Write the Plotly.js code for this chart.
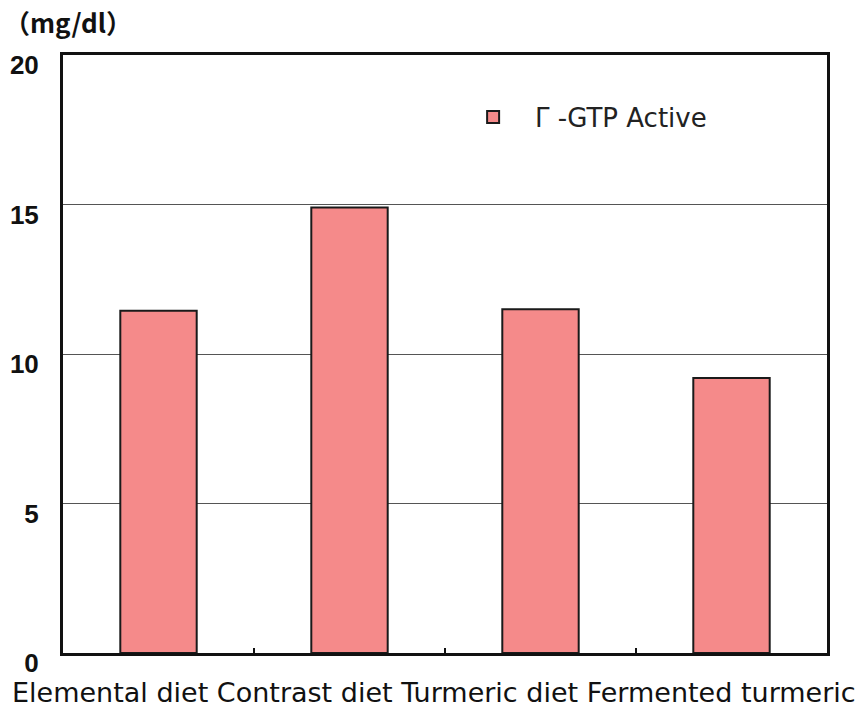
<!DOCTYPE html>
<html><head><meta charset="utf-8">
<script src="https://cdn.plot.ly/plotly-3.0.1.min.js"></script>
<style>html,body{margin:0;padding:0;background:#fff;}#chart{width:858px;height:708px;}</style>
</head><body><div id="chart"></div>
<script>
const categories = ["Elemental diet", "Contrast diet", "Turmeric diet", "Fermented turmeric"];
const gtpActive = [11.45, 14.9, 11.5, 9.2];
const seriesName = "Γ -GTP Active";
const yTicks = [0, 5, 10, 15, 20];
const unitLabel = "（mg/dl）";

const trace = {
  type: "bar", x: categories, y: gtpActive, name: seriesName,
  width: 0.4,
  marker: {color: "#F58A8A", line: {color: "#1a1a1a", width: 2}},
  showlegend: true, hoverinfo: "none"
};
const layout = {
  width: 858, height: 708,
  margin: {l: 63, r: 31, t: 55, b: 55},
  paper_bgcolor: "#fff", plot_bgcolor: "#fff",
  showlegend: true,
  legend: {x: 0.508, y: 0.896, xanchor: "left", yanchor: "middle", bgcolor: "rgba(0,0,0,0)",
    font: {family: "DejaVu Sans", size: 26, color: "#222"}, itemwidth: 74},
  xaxis: {type: "category", showline: true, linecolor: "#111", linewidth: 3, mirror: true,
    ticks: "inside", tickson: "boundaries", ticklen: 5, tickwidth: 2, tickcolor: "#111",
    showticklabels: false, showgrid: false, fixedrange: true},
  yaxis: {range: [0, 20], tickvals: yTicks, ticktext: yTicks.map(String), showline: true, linecolor: "#111", linewidth: 3,
    mirror: true, ticks: "", showgrid: true, gridcolor: "#555", gridwidth: 1, zeroline: false,
    tickfont: {family: "Liberation Sans", size: 26, color: "#111", weight: "bold"}, ticklabelstandoff: 16,
    ticklabelshift: 10},
  annotations: [
    {text: unitLabel, xref: "paper", yref: "paper", x: 0, y: 1, xshift: -61, yshift: 13,
     xanchor: "left", yanchor: "bottom", showarrow: false,
     font: {family: "Noto Sans CJK JP", size: 26, color: "#111", weight: "bold"}},
    {text: categories.join(" "), xref: "paper", yref: "paper", x: 0, y: 0, xshift: -53, yshift: -39,
     xanchor: "left", yanchor: "middle", showarrow: false,
     font: {family: "DejaVu Sans", size: 27, color: "#111"}}
  ]
};
Plotly.newPlot("chart", [trace], layout, {displayModeBar: false, staticPlot: true});
</script></body></html>
